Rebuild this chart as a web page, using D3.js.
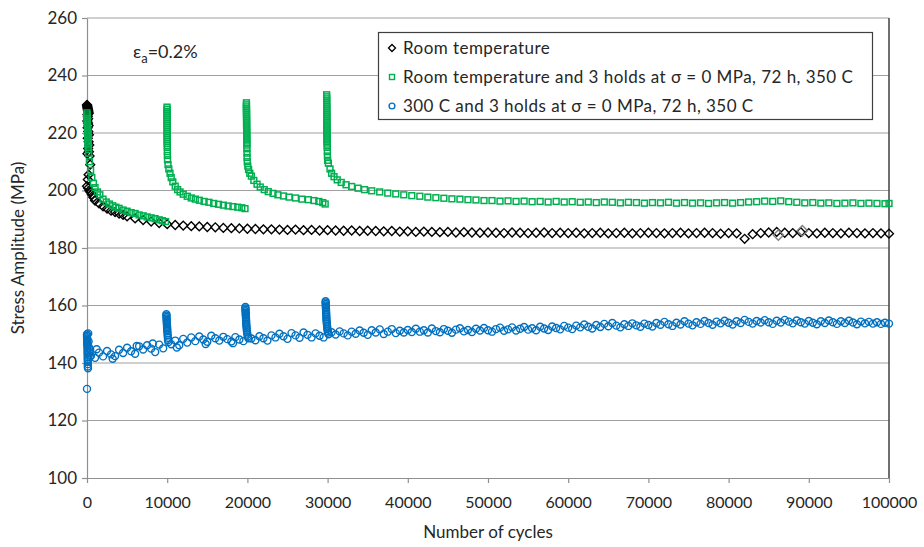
<!DOCTYPE html>
<html>
<head>
<meta charset="utf-8">
<script src="https://cdn.jsdelivr.net/npm/d3@7"></script>
<style>
  body { margin: 0; background: #fff; }
  svg text { font-family: Lato, "Noto Sans", sans-serif; fill: #262626; }
</style>
</head>
<body>
<div id="chart"></div>
<script>
// x ticks and y ticks
var xTicks = [0, 10000, 20000, 30000, 40000, 50000, 60000, 70000, 80000, 90000, 100000];
var yTicks = [100, 120, 140, 160, 180, 200, 220, 240, 260];

var seriesNames = [
  'Room temperature',
  'Room temperature  and 3 holds at \u03c3 = 0 MPa, 72 h, 350 C',
  '300 C and 3 holds at \u03c3 = 0 MPa, 72 h, 350 C'
];

// [cycles, stress amplitude MPa]
var roomTemp = [
  [0,229.8],[20,229.5],[40,229.2],[60,228.9],[80,228.6],[100,228.3],[120,228],[140,227.7],[160,227.4],[180,227.1],
  [200,226.8],[60,226.4],[100,225.8],[140,225],[40,224.2],[120,223.5],[200,222.6],[80,221.8],[160,220.5],[240,219.4],
  [100,218.2],[200,217],[280,215.8],[140,214.6],[240,213.5],[60,212.8],[320,212],[400,209],[200,205.5],[100,203.8],
  [0,201.5],[150,200.8],[300,200],[450,199.4],[600,198.6],[800,197.6],
  [1000,196.5],[1500,195.5],[2000,194.5],[2500,193.7],[3000,193],[3500,192.5],[4000,192],[4500,191.5],[5000,191],
  [6000,190.3],[7000,189.7],[8000,189.2],[9000,188.7],[10000,188.3],[11000,188],[12000,187.8],[13000,187.6],
  [14000,187.5],[15000,187.3],[16000,187.2],[17000,187],[18000,186.9],[19000,186.8],[20000,186.7],[21000,186.6],
  [22000,186.5],[23000,186.5],[24000,186.4],[25000,186.3],[26000,186.4],[27000,186.2],[28000,186.3],[29000,186.1],
  [30000,186.2],[31000,186.1],[32000,186],[33000,186.1],[34000,185.9],[35000,186],[36000,185.9],[37000,185.8],
  [38000,185.9],[39000,185.7],[40000,185.8],[41000,185.6],[42000,185.7],[43000,185.6],[44000,185.5],[45000,185.6],
  [46000,185.4],[47000,185.5],[48000,185.4],[49000,185.3],[50000,185.4],[51000,185.3],[52000,185.2],[53000,185.4],
  [54000,185.3],[55000,185.2],[56000,185.3],[57000,185.4],[58000,185.2],[59000,185.3],[60000,185.2],[61000,185.3],
  [62000,185.1],[63000,185.2],[64000,185.3],[65000,185.1],[66000,185.2],[67000,185.3],[68000,185.1],[69000,185.2],
  [70000,185.3],[71000,185.2],[72000,185.1],[73000,185.2],[74000,185.3],[75000,185.1],[76000,185.2],[77000,185.3],
  [78000,185.2],[79000,185],[80000,185.2],[81000,185.1],[82000,183.2],[83000,184.8],[84000,185.2],[85000,185.4],
  [86000,185.6],[87000,185.3],[88000,185.2],[89000,185.5],[90000,185.2],[91000,185.1],[92000,185.3],[93000,185.2],
  [94000,185.1],[95000,185.3],[96000,185.2],[97000,185.1],[98000,185.2],[99000,185.1],[100000,185]
];
// lighter grey diamonds (overlapping marks)
var roomTempGrey = [[86200,184.5],[89200,186]];

var holdsRoom = [
  // hold 0
  [0,227],[0,226.3],[20,225.6],[20,224.9],[40,224.2],[40,223.5],[60,222.8],[60,222.1],[80,221.4],[80,220.7],
  [100,220],[100,219.3],[120,218.6],[120,217.9],[140,217.2],[140,216.5],[160,215.8],[160,215],[180,214.2],[200,213],
  [300,210],[450,207],[600,204.5],[800,202.5],[1000,201],[1300,199.5],[1600,198.5],[2000,197],[2400,196],
  [2800,195.3],[3200,194.7],[3600,194.2],[4000,193.8],[4500,193.2],[5000,192.8],[5500,192.3],[6000,192],
  [6500,191.5],[7000,191.2],[7500,190.8],[8000,190.5],[8500,190.2],[9000,189.8],[9400,189.5],[9800,189.2],
  // hold 1
  [9980,229],[9980,228.3],[9980,227.6],[9980,226.9],[9980,226.2],[9990,225.5],[9990,224.8],[9990,224.1],[9990,223.4],
  [9990,222.7],[10000,222],[10000,221.3],[10000,220.6],[10000,219.9],[10000,219.2],[10000,218.5],[10010,217.8],
  [10010,217.1],[10010,216.4],[10010,215.7],[10020,215],[10020,213.5],[10030,212.2],[10040,210.7],[10100,209],
  [10200,207.5],[10350,206],[10500,204.5],[10700,203],[11000,201.5],[11300,200.3],[11600,199.5],[12000,198.7],
  [12500,198],[13000,197.4],[13500,197],[14000,196.6],[14600,196.2],[15200,195.9],[15800,195.5],[16400,195.2],
  [17000,194.9],[17600,194.6],[18200,194.4],[18800,194.2],[19300,194],[19700,193.7],
  // hold 2
  [19880,230.5],[19880,229.8],[19880,229.1],[19880,228.4],[19890,227.7],[19890,227],[19890,226.3],[19890,225.6],
  [19900,224.9],[19900,224.2],[19900,223.5],[19900,222.8],[19900,222.1],[19910,221.4],[19910,220.7],[19910,220],
  [19910,219.3],[19920,218.6],[19920,217.9],[19920,217.2],[19930,216.5],[19930,215.8],[19940,214.5],[19950,213],
  [19960,211.5],[19980,210],[20050,208.5],[20150,207.3],[20300,206],[20500,205],[20800,203.5],[21200,202.2],
  [21600,201.2],[22100,200.3],[22600,199.6],[23200,199],[23800,198.5],[24500,198.1],[25200,197.7],[26000,197.4],
  [26800,197],[27600,196.8],[28300,196.5],[28900,196.2],[29400,195.8],[29700,195.3],
  // hold 3
  [29880,233.3],[29880,232.6],[29880,231.9],[29880,231.2],[29890,230.5],[29890,229.8],[29890,229.1],[29890,228.4],
  [29900,227.7],[29900,227],[29900,226.3],[29900,225.6],[29900,224.9],[29910,224.2],[29910,223.5],[29910,222.8],
  [29910,222.1],[29920,221.4],[29920,220.7],[29920,220],[29930,219.3],[29930,218.6],[29940,217.9],[29940,217.2],
  [29950,216.5],[29950,215.8],[29960,215],[29970,213.5],[29980,212],[30000,210.5],[30100,209.5],[30300,207.5],
  [30500,206],[30800,204.8],[31200,203.7],[31700,202.8],[32300,202],[33000,201.4],[33800,200.8],[34600,200.3],
  [35500,199.9],[36500,199.5],[37500,199.1],[38500,198.8],[39500,198.5],[40500,198.2],[41500,198],[42500,197.7],
  [43500,197.5],[44500,197.3],[45500,197.1],[46500,197],[47500,196.8],[48500,196.7],[49500,196.5],[50500,196.5],
  [51500,196.3],[52500,196.4],[53500,196.2],[54500,196.3],[55500,196.1],[56500,196.2],[57500,196],[58500,196.2],
  [59500,196],[60500,196.1],[61500,195.9],[62500,196],[63500,195.8],[64500,196],[65500,195.9],[66500,195.7],
  [67500,195.9],[68500,195.8],[69500,195.6],[70500,195.8],[71500,195.7],[72500,195.9],[73500,195.6],[74500,195.8],
  [75500,195.6],[76500,195.7],[77500,195.5],[78500,195.7],[79500,195.8],[80500,195.6],[81500,195.8],[82500,196],
  [83500,196.1],[84500,196.3],[85500,196.2],[86500,196.4],[87500,196.1],[88500,195.9],[89500,195.7],[90500,195.8],
  [91500,195.6],[92500,195.7],[93500,195.5],[94500,195.6],[95500,195.7],[96500,195.5],[97500,195.6],[98500,195.5],
  [99500,195.4],[100000,195.5]
];

var holds300 = [
  [0,150],[0,149.5],[0,149],[20,148.5],[20,148],[20,147.5],[40,147],[40,146.5],[40,146],[60,145.2],[60,144.4],
  [60,143.6],[80,142.8],[80,142],[80,141.2],[100,140.4],[100,139.6],[100,138.8],[120,138.2],[0,131],[150,150.3],
  [200,147.5],[250,145.4],[300,143.8],[350,142.2],[400,144.6],
  [500,142.5],[1000,141.8],[1200,144.8],[1500,143.6],[2000,142.3],[2500,144.2],[3000,143],[3200,141.5],[3500,142.4],
  [4000,144.6],[4500,143.5],[5000,145.3],[5500,144.1],[6000,143.2],[6200,145.9],[6500,145.8],[7000,144.7],
  [7500,146.2],[8000,145],[8200,146.8],[8500,143.8],[9000,146.4],[9500,145.1],
  [9900,157],[9900,156.5],[9920,156],[9920,155.5],[9940,155],[9940,154.5],[9960,154],[9960,153.5],[9980,153],
  [9980,152.5],[10000,152],[10000,151.5],[10020,151],[10040,150.3],[10060,149.6],[10080,148.8],[10100,148],[10150,147.3],
  [10500,146.5],[11000,147.8],[11200,145.4],[11500,146.2],[12000,148.4],[12500,147.1],[13000,148.9],[13500,147.6],
  [14000,149.2],[14500,148.2],[14800,146.6],[15000,147.4],[15500,149.5],[16000,148.6],[16500,147.8],[17000,149.1],
  [17500,148.3],[18000,147.5],[18200,146.9],[18500,149],[19000,148.2],[19500,147.6],
  [19750,159.5],[19750,159],[19770,158.5],[19770,158],[19790,157.5],[19790,157],[19810,156.5],[19810,156],
  [19830,155.5],[19830,155],[19850,154.4],[19850,153.8],[19870,153.2],[19890,152.6],[19910,152],[19930,151.3],
  [19960,150.6],[20000,149.9],[20050,149.2],[20120,148.6],
  [20500,148.5],[21000,147.9],[21500,149.3],[22000,148.6],[22500,147.8],[23000,149.6],[23500,148.9],[24000,150.2],
  [24500,149.3],[25000,148.4],[25500,150.4],[26000,149.6],[26500,148.8],[27000,150.6],[27500,149.8],[28000,148.9],
  [28500,150.3],[29000,149.5],[29500,148.9],
  [29750,161.5],[29750,161],[29770,160.5],[29770,160],[29790,159.5],[29790,159],[29810,158.4],[29810,157.8],
  [29830,157.2],[29830,156.6],[29850,156],[29850,155.4],[29870,154.8],[29890,154.2],[29910,153.6],[29930,153],
  [29950,152.4],[29970,151.8],[30000,151.2],[30050,150.6],[30120,150],
  [30500,150.7],[31000,149.9],[31500,151],[32000,150.3],[32500,149.6],[33000,150.9],[33500,150.2],[34000,151.3],
  [34500,150.5],[35000,149.8],[35500,151.4],[36000,150.6],[36500,151.7],[37000,150.1],[37500,150.9],[38000,151.8],
  [38500,150.4],[39000,151.2],[39500,150.6],[40000,151.5],[40500,150.8],[41000,151.9],[41500,150.9],[42000,151.4],
  [42500,150.6],[43000,152],[43500,151.1],[44000,150.7],[44500,151.8],[45000,151.2],[45500,150.5],[46000,151.6],
  [46500,152.1],[47000,151],[47500,151.5],[48000,150.8],[48500,151.9],[49000,151.3],[49500,152.2],[50000,151.4],
  [50500,150.9],[51000,151.8],[51500,152.3],[52000,151.2],[52500,151.7],[53000,152.4],[53500,151.3],[54000,151.9],
  [54500,152.5],[55000,151.6],[55500,152.1],[56000,151.4],[56500,152.6],[57000,152],[57500,151.5],[58000,152.7],
  [58500,152.2],[59000,151.7],[59500,152.9],[60000,152.3],[60500,151.8],[61000,153],[61500,152.4],[62000,153.4],
  [62500,152.6],[63000,152],[63500,153.2],[64000,152.5],[64500,153.6],[65000,152.8],[65500,153.9],[66000,153],
  [66500,152.4],[67000,153.5],[67500,152.9],[68000,153.8],[68500,153.1],[69000,152.6],[69500,153.7],[70000,153.2],
  [70500,152.7],[71000,153.9],[71500,153.3],[72000,154.3],[72500,153.5],[73000,152.9],[73500,154],[74000,153.4],
  [74500,154.5],[75000,153.7],[75500,153.1],[76000,154.2],[76500,153.6],[77000,154.6],[77500,153.9],[78000,153.3],
  [78500,154.4],[79000,153.8],[79500,154.7],[80000,154],[80500,153.4],[81000,154.5],[81500,153.9],[82000,155],
  [82500,154.3],[83000,153.7],[83500,154.6],[84000,154.1],[84500,154.9],[85000,154.2],[85500,153.6],[86000,154.7],
  [86500,154.1],[87000,155],[87500,154.4],[88000,153.8],[88500,154.8],[89000,154.2],[89500,153.7],[90000,154.6],
  [90500,154],[91000,153.5],[91500,154.5],[92000,153.9],[92500,154.8],[93000,154.2],[93500,153.6],[94000,154.5],
  [94500,153.9],[95000,154.7],[95500,154.1],[96000,153.5],[96500,154.4],[97000,153.8],[97500,154.3],[98000,153.7],
  [98500,154.2],[99000,153.6],[99500,154],[100000,153.7]
];

var colors = { room: '#000000', holdsRoom: '#00b050', holds300: '#0070c0' };

var W = 924, H = 547;
var margin = { top: 18, right: 35, bottom: 69, left: 87 },
    width = W - margin.left - margin.right,
    height = H - margin.top - margin.bottom;

var x = d3.scaleLinear().domain([0, 100000]).range([0, width]);
var y = d3.scaleLinear().domain([100, 260]).range([height, 0]);

var svg = d3.select('#chart').append('svg')
    .attr('width', W)
    .attr('height', H);

var g = svg.append('g')
    .attr('transform', 'translate(' + margin.left + ',' + margin.top + ')');

// gridlines
g.selectAll('.grid')
    .data(yTicks.slice(1))
    .enter().append('line')
    .attr('x1', 0).attr('x2', width)
    .attr('y1', function(d){ return y(d); })
    .attr('y2', function(d){ return y(d); })
    .attr('stroke', '#a0a0a0')
    .attr('stroke-width', 1.2);

// right border
g.append('line')
    .attr('x1', width).attr('x2', width)
    .attr('y1', 0).attr('y2', height)
    .attr('stroke', '#404040')
    .attr('stroke-width', 1.5);

// axes
var xAxis = d3.axisBottom(x).tickValues(xTicks).tickSize(5).tickSizeOuter(0).tickFormat(d3.format('d'));
var yAxis = d3.axisLeft(y).tickValues(yTicks).tickSize(5).tickSizeOuter(0);

var gx = g.append('g')
    .attr('transform', 'translate(0,' + height + ')')
    .call(xAxis);
gx.selectAll('path, line').attr('stroke', '#909090').attr('stroke-width', 1.2);
gx.selectAll('text').attr('dy', '1.35em').style('font-size', '16px').attr('fill', '#262626');

var gy = g.append('g').call(yAxis);
gy.selectAll('path, line').attr('stroke', '#909090').attr('stroke-width', 1.2);
gy.selectAll('text').attr('x', -10).style('font-size', '17px').attr('fill', '#262626');

// axis titles
svg.append('text')
    .attr('x', margin.left + width / 2)
    .attr('y', 538)
    .attr('text-anchor', 'middle')
    .style('font-size', '17px')
    .text('Number of cycles');

svg.append('text')
    .attr('transform', 'translate(24,' + (margin.top + height / 2) + ') rotate(-90)')
    .attr('text-anchor', 'middle')
    .style('font-size', '17px')
    .text('Stress Amplitude (MPa)');

// strain amplitude note
var note = svg.append('text')
    .attr('x', 133)
    .attr('y', 58)
    .style('font-size', '18px');
note.append('tspan').text('\u03b5');
note.append('tspan').attr('dy', 5).style('font-size', '13px').text('a');
note.append('tspan').attr('dy', -5).text('=0.2%');

// markers (square diamonds like the original)
var diamond = d3.symbol().type(d3.symbolDiamond2).size(50);

g.selectAll('.rt')
    .data(roomTemp)
    .enter().append('path')
    .attr('d', diamond)
    .attr('transform', function(d){ return 'translate(' + x(d[0]) + ',' + y(d[1]) + ')'; })
    .attr('fill', 'none')
    .attr('stroke', colors.room)
    .attr('stroke-width', 1.4);

g.selectAll('.rtg')
    .data(roomTempGrey)
    .enter().append('path')
    .attr('d', d3.symbol().type(d3.symbolDiamond2).size(68))
    .attr('transform', function(d){ return 'translate(' + x(d[0]) + ',' + y(d[1]) + ')'; })
    .attr('fill', 'none')
    .attr('stroke', '#808080')
    .attr('stroke-width', 1.4);

g.selectAll('.hr')
    .data(holdsRoom)
    .enter().append('rect')
    .attr('x', function(d){ return x(d[0]) - 2.9; })
    .attr('y', function(d){ return y(d[1]) - 2.9; })
    .attr('width', 5.8)
    .attr('height', 5.8)
    .attr('fill', 'none')
    .attr('stroke', colors.holdsRoom)
    .attr('stroke-width', 1.5);

g.selectAll('.h3')
    .data(holds300)
    .enter().append('circle')
    .attr('cx', function(d){ return x(d[0]); })
    .attr('cy', function(d){ return y(d[1]); })
    .attr('r', 3.5)
    .attr('fill', 'none')
    .attr('stroke', colors.holds300)
    .attr('stroke-width', 1.4);

// legend
var legend = svg.append('g');
legend.append('rect')
    .attr('x', 378.5).attr('y', 32.5)
    .attr('width', 494).attr('height', 87)
    .attr('fill', '#fff')
    .attr('stroke', '#404040')
    .attr('stroke-width', 1.2);

var rows = [48, 77, 106];
legend.append('path')
    .attr('d', d3.symbol().type(d3.symbolDiamond2).size(32))
    .attr('transform', 'translate(392,' + rows[0] + ')')
    .attr('fill', 'none').attr('stroke', colors.room).attr('stroke-width', 1.3);
legend.append('rect')
    .attr('x', 389.5).attr('y', rows[1] - 2.5).attr('width', 5).attr('height', 5)
    .attr('fill', 'none').attr('stroke', colors.holdsRoom).attr('stroke-width', 1.4);
legend.append('circle')
    .attr('cx', 392).attr('cy', rows[2]).attr('r', 2.9)
    .attr('fill', 'none').attr('stroke', colors.holds300).attr('stroke-width', 1.4);

legend.selectAll('.lt')
    .data(seriesNames)
    .enter().append('text')
    .attr('x', 403)
    .attr('y', function(d, i){ return rows[i]; })
    .attr('dy', '0.35em')
    .style('font-size', '17px')
    .style('letter-spacing', '0.45px')
    .text(function(d){ return d; });
</script>
</body>
</html>
